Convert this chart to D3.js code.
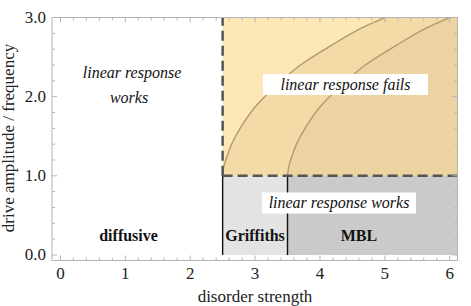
<!DOCTYPE html>
<html><head><meta charset="utf-8">
<script src="https://cdn.jsdelivr.net/npm/d3@7"></script>
<style>body{margin:0;background:#fff}</style>
</head><body>
<svg id="c" width="471" height="306"></svg>
<script>
const xTicks = [0,1,2,3,4,5,6];
const yTicks = [0,1,2,3];
const yTickLabels = ["0.0","1.0","2.0","3.0"];
const xMinor = d3.range(0, 6.01, 0.2);
const yMinor = d3.range(0, 3.01, 0.2);
const griffithsStart = 2.5;
const mblStart = 3.5;
const threshold = 1.0;
const curve1 = [[2.5,1.0],[2.52,1.12],[2.57,1.25],[2.65,1.42],[2.8,1.64],[3.0,1.87],[3.3,2.12],[3.7,2.4],[4.2,2.66],[4.6,2.85],[5.0,3.0],[5.3,3.12]];
const curve2 = [[3.5,1.0],[3.52,1.12],[3.57,1.25],[3.65,1.42],[3.8,1.64],[4.0,1.87],[4.3,2.12],[4.7,2.4],[5.2,2.66],[5.6,2.85],[6.0,3.0],[6.3,3.12]];
const labels = [
  {t:"diffusive", x:1.05, y:0.18, bold:true},
  {t:"Griffiths", x:3.0, y:0.18, bold:true},
  {t:"MBL", x:4.6, y:0.18, bold:true}
];

const svg = d3.select("#c");
const x = d3.scaleLinear().domain([-0.13, 6.12]).range([52, 457.5]);
const y = d3.scaleLinear().domain([-0.07, 3.0]).range([260.5, 17.5]);
const [x0,x1] = x.domain(), [y0,y1] = y.domain();

svg.append("defs").append("clipPath").attr("id","clip")
  .append("rect").attr("x",x(x0)).attr("y",y(y1)).attr("width",x(x1)-x(x0)).attr("height",y(y0)-y(y1));
const g = svg.append("g").attr("clip-path","url(#clip)");

// orange region
g.append("rect").attr("x",x(griffithsStart)).attr("y",y(y1))
  .attr("width",x(x1)-x(griffithsStart)).attr("height",y(threshold)-y(y1)).attr("fill","#fde7b6");
const line = d3.line().x(d=>x(d[0])).y(d=>y(d[1])).curve(d3.curveCatmullRom);
function rightPath(c){
  const p = line(c);
  const last = c[c.length-1];
  return p + "L" + x(x1+0.5) + "," + y(last[1]) + "L" + x(x1+0.5) + "," + y(threshold) + "Z";
}
g.append("path").attr("d",rightPath(curve1)).attr("fill","#f3dba8");
g.append("path").attr("d",rightPath(curve2)).attr("fill","#ebd4a2");
g.append("path").attr("d",line(curve1)).attr("fill","none").attr("stroke","#b09a6e").attr("stroke-width",1.4);
g.append("path").attr("d",line(curve2)).attr("fill","none").attr("stroke","#b09a6e").attr("stroke-width",1.4);

// gray regions
g.append("rect").attr("x",x(griffithsStart)).attr("y",y(threshold))
  .attr("width",x(mblStart)-x(griffithsStart)).attr("height",y(0)-y(threshold)).attr("fill","#e3e3e3");
g.append("rect").attr("x",x(mblStart)).attr("y",y(threshold))
  .attr("width",x(x1)-x(mblStart)).attr("height",y(0)-y(threshold)).attr("fill","#cacaca");
[griffithsStart, mblStart].forEach(v=>{
  g.append("line").attr("x1",x(v)).attr("x2",x(v)).attr("y1",y(0)).attr("y2",y(threshold))
    .attr("stroke","#111").attr("stroke-width",1.4);
});

// dashed boundaries
g.append("line").attr("x1",x(griffithsStart)).attr("x2",x(griffithsStart)).attr("y1",y(threshold)).attr("y2",y(y1))
  .attr("stroke","#555").attr("stroke-width",2.5).attr("stroke-dasharray","10,5");
g.append("line").attr("x1",x(griffithsStart)).attr("x2",x(x1)).attr("y1",y(threshold)).attr("y2",y(threshold))
  .attr("stroke","#555").attr("stroke-width",2.5).attr("stroke-dasharray","10,5");

// frame and ticks
const fc = "#b4b4b4";
const fr = svg.append("g");
fr.append("rect").attr("x",x(x0)).attr("y",y(y1)).attr("width",x(x1)-x(x0)).attr("height",y(y0)-y(y1))
  .attr("fill","none").attr("stroke",fc).attr("stroke-width",1);
function tk(v, major){
  const L = major?5:3;
  fr.append("line").attr("x1",x(v)).attr("x2",x(v)).attr("y1",y(y0)).attr("y2",y(y0)-L).attr("stroke",fc);
  fr.append("line").attr("x1",x(v)).attr("x2",x(v)).attr("y1",y(y1)).attr("y2",y(y1)+L).attr("stroke",fc);
}
function tky(v, major){
  const L = major?5:3;
  fr.append("line").attr("y1",y(v)).attr("y2",y(v)).attr("x1",x(x0)).attr("x2",x(x0)+L).attr("stroke",fc);
  fr.append("line").attr("y1",y(v)).attr("y2",y(v)).attr("x1",x(x1)).attr("x2",x(x1)-L).attr("stroke",fc);
}
xMinor.forEach(v=>tk(v, Math.abs(v-Math.round(v))<1e-6));
yMinor.forEach(v=>tky(v, Math.abs(v-Math.round(v))<1e-6));

const font = "'Liberation Serif', 'Times New Roman', serif";
svg.append("g").selectAll("text").data(xTicks).join("text")
  .attr("x",d=>x(d)).attr("y",279).attr("text-anchor","middle")
  .attr("font-family",font).attr("font-size",17).attr("fill","#222").text(d=>d);
svg.append("g").selectAll("text").data(yTicks).join("text")
  .attr("x",46).attr("y",d=>y(d)+5.5).attr("text-anchor","end")
  .attr("font-family",font).attr("font-size",17).attr("fill","#222").text((d,i)=>yTickLabels[i]);

svg.append("text").attr("x",255).attr("y",302).attr("text-anchor","middle")
  .attr("font-family",font).attr("font-size",17).attr("fill","#222").text("disorder strength");
svg.append("text").attr("transform","translate(14,138) rotate(-90)").attr("text-anchor","middle")
  .attr("font-family",font).attr("font-size",17).attr("fill","#222").text("drive amplitude / frequency");

// region labels
labels.forEach(l=>{
  svg.append("text").attr("x",x(l.x)).attr("y",y(l.y)).attr("text-anchor","middle")
    .attr("font-family",font).attr("font-size",16).attr("font-weight","bold").attr("fill","#111").text(l.t);
});
svg.append("text").attr("x",132).attr("y",78).attr("text-anchor","middle")
  .attr("font-family",font).attr("font-size",16).attr("font-style","italic").attr("fill","#111").text("linear response");
svg.append("text").attr("x",129).attr("y",103).attr("text-anchor","middle")
  .attr("font-family",font).attr("font-size",16).attr("font-style","italic").attr("fill","#111").text("works");

function boxed(cx, cy, w, h, t){
  svg.append("rect").attr("x",cx-w/2).attr("y",cy-h/2).attr("width",w).attr("height",h).attr("fill","#fff");
  svg.append("text").attr("x",cx).attr("y",cy+5).attr("text-anchor","middle")
    .attr("font-family",font).attr("font-size",16).attr("font-style","italic").attr("fill","#111").text(t);
}
boxed(345.5, 84.5, 165, 21, "linear response fails");
boxed(339, 203, 154, 21, "linear response works");
</script>
</body></html>
